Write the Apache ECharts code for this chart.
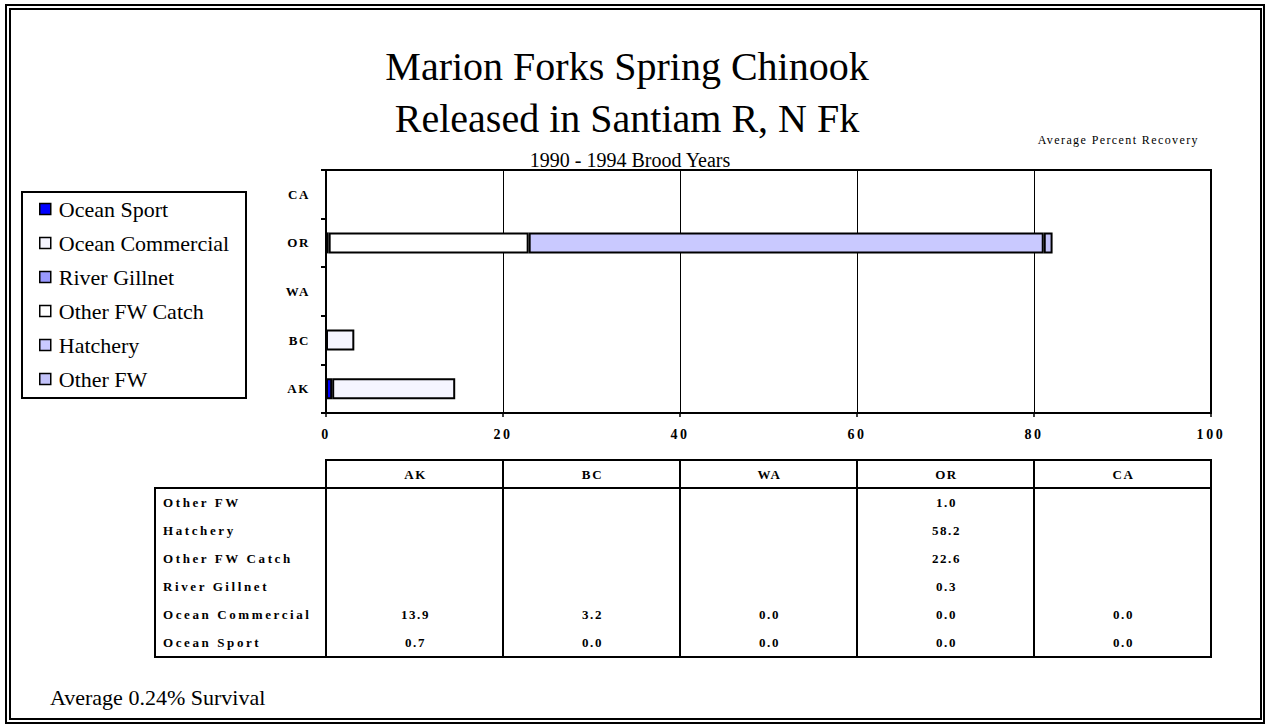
<!DOCTYPE html>
<html>
<head>
<meta charset="utf-8">
<script src="https://cdn.jsdelivr.net/npm/echarts@6/dist/echarts.min.js"></script>
<style>
  html, body { margin: 0; padding: 0; background: #fff; }
  #chart { width: 1265px; height: 727px; }
  /* small bold labels are set with wide tracking */
  #chart text[style*="Tinos"] { letter-spacing: 2.6px; }
  #chart text[style*="Times"] { letter-spacing: 1.6px; }
  #chart text[style*="Nimbus"] { letter-spacing: 1.4px; }
</style>
</head>
<body>
<div id="chart"></div>
<script>
// Recovery regions (bottom to top on the chart)
const categories = ['AK', 'BC', 'WA', 'OR', 'CA'];

// Average percent recovery by fishery, per region
const oceanSport      = [0.7, 0.0, 0.0, 0.0, 0.0];
const oceanCommercial = [13.9, 3.2, 0.0, 0.0, 0.0];
const riverGillnet    = [null, null, null, 0.3, null];
const otherFwCatch    = [null, null, null, 22.6, null];
const hatchery        = [null, null, null, 58.2, null];
const otherFw         = [null, null, null, 1.0, null];

const seriesNames = ['Ocean Sport', 'Ocean Commercial', 'River Gillnet', 'Other FW Catch', 'Hatchery', 'Other FW'];
const seriesData  = [oceanSport, oceanCommercial, riverGillnet, otherFwCatch, hatchery, otherFw];
const seriesColors = ['#0000FF', '#F5F5FF', '#9999FF', '#FFFFFF', '#C9C9FF', '#C3C3FA'];

// Data table rows, top to bottom
const tableRows = ['Other FW', 'Hatchery', 'Other FW Catch', 'River Gillnet', 'Ocean Commercial', 'Ocean Sport'];

const xTicks = [0, 20, 40, 60, 80, 100];

const titleLines = ['Marion Forks Spring Chinook', 'Released in Santiam R, N Fk'];
const subtitleText = '1990 - 1994 Brood Years';
const unitsText = 'Average Percent Recovery';
const footerText = 'Average 0.24% Survival';

const SERIF = "'Liberation Serif', serif";
const SPACED_WIDE = "'Liberation Serif', Tinos, serif";
const SPACED = "'Liberation Serif', Times, serif";
const SPACED_LIGHT = "'Liberation Serif', Nimbus, serif";

const chart = echarts.init(document.getElementById('chart'), null, { renderer: 'svg', width: 1265, height: 727 });

chart.setOption({
  animation: false,
  backgroundColor: '#fff',
  grid: {
    left: 326, right: 54, top: 170, bottom: 314,
    show: true, borderColor: '#000', borderWidth: 2, backgroundColor: 'transparent'
  },
  legend: {
    orient: 'vertical',
    left: 39, top: 198,
    padding: 0,
    itemGap: 12,
    itemWidth: 11, itemHeight: 11,
    icon: 'rect',
    selectedMode: false,
    data: seriesNames,
    itemStyle: { borderColor: '#000', borderWidth: 1.5 },
    textStyle: { fontFamily: SERIF, fontSize: 22, color: '#000', padding: [0, 0, 0, 3] }
  },
  xAxis: {
    type: 'value',
    min: xTicks[0], max: xTicks[xTicks.length - 1], interval: xTicks[1] - xTicks[0],
    axisLine: { show: true, lineStyle: { color: '#000', width: 2 } },
    axisTick: { show: true, length: 4, lineStyle: { color: '#000', width: 1.5 } },
    splitLine: { show: true, lineStyle: { color: '#000', width: 1 } },
    axisLabel: { margin: 14, color: '#000', fontFamily: SPACED_WIDE, fontWeight: 'bold', fontSize: 14 }
  },
  yAxis: {
    type: 'category',
    data: categories,
    axisLine: { show: true, lineStyle: { color: '#000', width: 2 } },
    axisTick: { show: true, length: 5, lineStyle: { color: '#000', width: 2 } },
    splitLine: { show: false },
    axisLabel: { margin: 16, color: '#000', fontFamily: SPACED, fontWeight: 'bold', fontSize: 13 }
  },
  series: seriesNames.map((name, i) => ({
    name: name,
    type: 'bar',
    stack: 'recovery',
    barWidth: 21,
    data: seriesData[i],
    silent: true,
    itemStyle: { color: seriesColors[i], borderColor: '#000', borderWidth: 2 },
    emphasis: { disabled: true }
  }))
});

// Decorations, headings and the data table beneath the plot
const colX = xTicks.map(v => chart.convertToPixel({ xAxisIndex: 0 }, v));
const plotRight = colX[colX.length - 1];

const headTop = 460, headBottom = 488, bodyBottom = 657, labelLeft = 155;
const rowStep = (bodyBottom - headBottom) / tableRows.length;

function label(text, x, y, size, family, weight, align) {
  return { type: 'text', silent: true, style: {
    text: text, x: x, y: y, fill: '#000',
    fontSize: size, fontFamily: family, fontWeight: weight || 'normal',
    textAlign: align || 'left', textVerticalAlign: 'middle'
  } };
}

const els = [];

// double frame around the page
els.push({ type: 'rect', silent: true, shape: { x: 6, y: 5, width: 1258, height: 718 },
  style: { fill: 'none', stroke: '#000', lineWidth: 2 } });
els.push({ type: 'rect', silent: true, shape: { x: 10, y: 9, width: 1251, height: 710 },
  style: { fill: 'none', stroke: '#000', lineWidth: 2 } });

// legend frame
els.push({ type: 'rect', silent: true, shape: { x: 22, y: 192, width: 224, height: 206 },
  style: { fill: 'none', stroke: '#000', lineWidth: 2 } });

// title block
els.push(label(titleLines[0], 627, 66, 40, SERIF, 'normal', 'center'));
els.push(label(titleLines[1], 627, 118, 40, SERIF, 'normal', 'center'));
els.push(label(subtitleText, 630, 160, 20, SERIF, 'normal', 'center'));
els.push(label(unitsText, 1199, 140, 12, SPACED_LIGHT, 'normal', 'right'));

// footer
els.push(label(footerText, 50, 697, 22, SERIF, 'normal', 'left'));

// table header row
for (let c = 0; c < categories.length; c++) {
  els.push({ type: 'rect', silent: true,
    shape: { x: colX[c], y: headTop, width: colX[c + 1] - colX[c], height: headBottom - headTop },
    style: { fill: 'none', stroke: '#000', lineWidth: 2 } });
  els.push(label(categories[c], (colX[c] + colX[c + 1]) / 2 + 1, (headTop + headBottom) / 2,
    13, SPACED, 'bold', 'center'));
}

// table body frame and column rules
els.push({ type: 'rect', silent: true,
  shape: { x: labelLeft, y: headBottom, width: plotRight - labelLeft, height: bodyBottom - headBottom },
  style: { fill: 'none', stroke: '#000', lineWidth: 2 } });
for (let c = 0; c < categories.length; c++) {
  els.push({ type: 'line', silent: true,
    shape: { x1: colX[c], y1: headBottom, x2: colX[c], y2: bodyBottom },
    style: { stroke: '#000', lineWidth: 2 } });
}

// table rows
tableRows.forEach((rowName, r) => {
  const y = headBottom + rowStep * (r + 0.5);
  els.push(label(rowName, labelLeft + 8, y, 13, SPACED_WIDE, 'bold', 'left'));
  const values = seriesData[seriesNames.indexOf(rowName)];
  values.forEach((v, c) => {
    if (v === null) return;
    els.push(label(v.toFixed(1), (colX[c] + colX[c + 1]) / 2 + 1, y, 13, SPACED, 'bold', 'center'));
  });
});

chart.setOption({ graphic: { elements: els } });
</script>
</body>
</html>
